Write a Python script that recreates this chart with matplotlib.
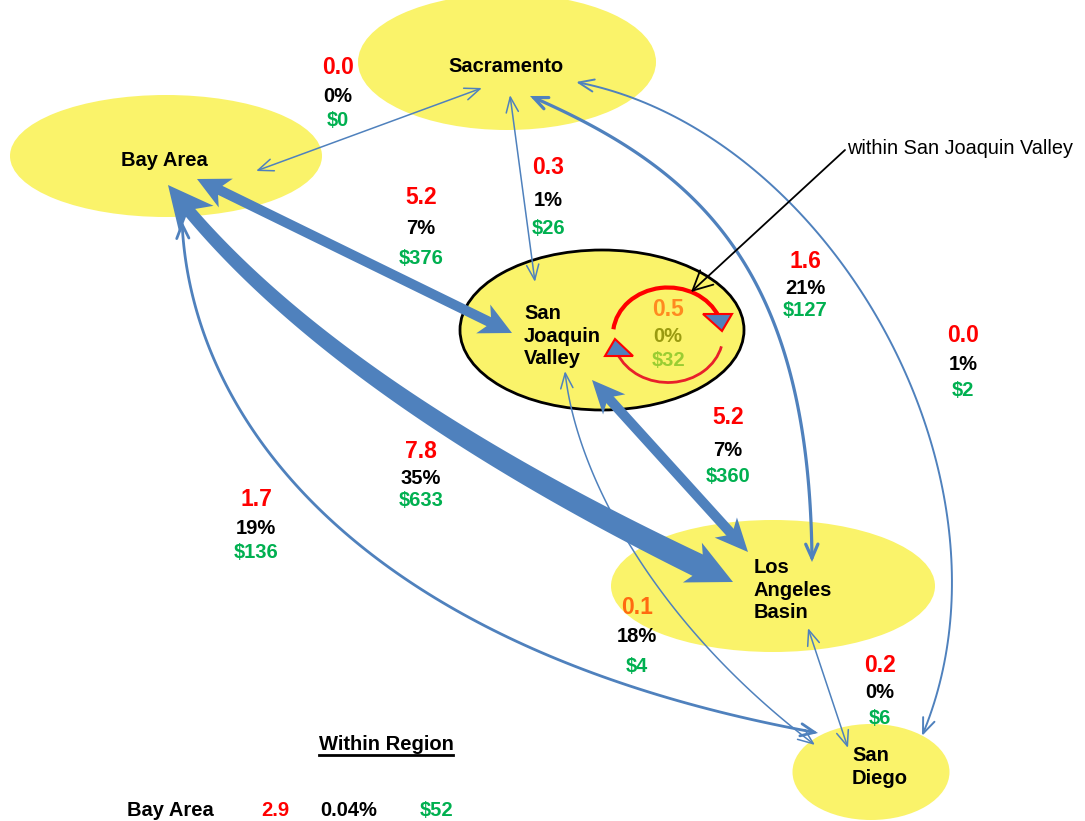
import numpy as np
import matplotlib
matplotlib.use("Agg")
import matplotlib.pyplot as plt
from matplotlib.patches import Ellipse, Polygon, FancyArrowPatch, Arc
from matplotlib.path import Path
from math import comb

plt.rcParams['font.family'] = ['Liberation Sans', 'DejaVu Sans']

# ---- data ----
regions = ["Bay Area", "Sacramento", "San Joaquin Valley", "Los Angeles Basin", "San Diego"]
region_labels = ["Bay Area", "Sacramento", "San\nJoaquin\nValley", "Los\nAngeles\nBasin", "San\nDiego"]

flow_from = ["Bay Area", "Sacramento", "Bay Area", "Sacramento", "Sacramento",
             "San Joaquin Valley", "Bay Area", "Bay Area", "San Joaquin Valley", "Los Angeles Basin"]
flow_to = ["Sacramento", "San Joaquin Valley", "San Joaquin Valley", "Los Angeles Basin", "San Diego",
           "Los Angeles Basin", "Los Angeles Basin", "San Diego", "San Diego", "San Diego"]
flow_val = [0.0, 0.3, 5.2, 1.6, 0.0, 5.2, 7.8, 1.7, 0.1, 0.2]
flow_pct = [0, 1, 7, 21, 1, 7, 35, 19, 18, 0]
flow_cost = [0, 26, 376, 127, 2, 360, 633, 136, 4, 6]

sjv_within_val = 0.5
sjv_within_pct = 0
sjv_within_cost = 32

within_region = ["Bay Area"]
within_val = [2.9]
within_pct = ["0.04%"]
within_cost = [52]

# ---- layout (pixel coordinates) ----
ell = {  # center x, center y, width, height, edge
    "Sacramento": (507, 62, 298, 136, None),
    "Bay Area": (166, 156, 312, 122, None),
    "San Joaquin Valley": (602, 330, 284, 160, 'k'),
    "Los Angeles Basin": (773, 586, 324, 132, None),
    "San Diego": (871, 772, 157, 96, None),
}
label_pos = {
    "Sacramento": (506, 66, 'center'),
    "Bay Area": (164, 160, 'center'),
    "San Joaquin Valley": (524, 336, 'left'),
    "Los Angeles Basin": (754, 590, 'left'),
    "San Diego": (852, 767, 'left'),
}
# arrow geometry: control points, style
arrow_ctrl = [
    [(256, 171), (482, 88)],
    [(510, 95), (535, 282)],
    [(197, 179), (512, 333)],
    [(530, 96), (700, 170), (810, 270), (812, 562)],
    [(576, 82), (830, 130), (1030, 480), (922, 736)],
    [(592, 380), (748, 552)],
    [(168, 185), (326, 391), (733, 582)],
    [(182, 221), (190, 420), (360, 650), (818, 733)],
    [(565, 371), (575, 470), (650, 620), (815, 745)],
    [(808, 628), (848, 748)],
]
# 'thin' arrows get a line width, 'fat' arrows get (w0, w1, hl, hw)
arrow_style = [
    ('thin', 1.1), ('thin', 1.1), ('fat', (10, 10, 32, 16)), ('thin', 2.3),
    ('thin', 1.4), ('fat', (10, 10, 33, 15)), ('fat', (12, 24, 45, 22)),
    ('thin', 2.0), ('thin', 1.1), ('thin', 1.1),
]
text_pos = [  # x, y of value, pct, cost
    (338, 68, 97, 121),
    (548, 168, 200, 229),
    (421, 198, 229, 258),
    (805, 262, 289, 311),
    (963, 335, 365, 390),
    (728, 417, 450, 477),
    (421, 451, 478, 500),
    (256, 499, 529, 553),
    (637, 608, 637, 667),
    (880, 665, 693, 718),
]

BLUE = '#4F81BD'
RED = '#FF0000'
GREEN = '#00B050'
YELLOW = '#FAF36A'


def bez(ctrl, n=200):
    ctrl = np.asarray(ctrl, float)
    k = len(ctrl) - 1
    t = np.linspace(0, 1, n)[:, None]
    return sum(comb(k, i) * t**i * (1 - t)**(k - i) * ctrl[i] for i in range(k + 1))


def head(tip, d, hl, hw):
    n = np.array([-d[1], d[0]])
    back = tip - hl * d
    return [tip, back + hw * n, tip - 0.72 * hl * d, back - hw * n]


def fat_arrow(ax, ctrl, w0, w1, hl, hw):
    pts = bez(ctrl)
    s = np.concatenate([[0], np.cumsum(np.hypot(*np.diff(pts, axis=0).T))])
    L = s[-1]
    px = lambda v: np.array([np.interp(v, s, pts[:, 0]), np.interp(v, s, pts[:, 1])])
    d0 = pts[0] - px(hl); d0 /= np.hypot(*d0)
    d1 = pts[-1] - px(L - hl); d1 /= np.hypot(*d1)
    ax.add_patch(Polygon(head(pts[0], d0, hl, hw), closed=True, fc=BLUE, ec='none', zorder=3))
    ax.add_patch(Polygon(head(pts[-1], d1, hl, hw), closed=True, fc=BLUE, ec='none', zorder=3))
    ss = np.linspace(0.6 * hl, L - 0.6 * hl, 150)
    c = np.array([px(v) for v in ss])
    tg = np.gradient(c, axis=0)
    tg /= np.hypot(tg[:, 0], tg[:, 1])[:, None]
    nrm = np.column_stack([-tg[:, 1], tg[:, 0]])
    w = np.linspace(w0, w1, len(ss))[:, None] / 2
    poly = np.vstack([c + w * nrm, (c - w * nrm)[::-1]])
    ax.add_patch(Polygon(poly, closed=True, fc=BLUE, ec='none', zorder=3))


fig = plt.figure(figsize=(10.85, 8.21), dpi=100)
ax = fig.add_axes([0, 0, 1, 1])
ax.set_xlim(0, 1085)
ax.set_ylim(821, 0)
ax.axis('off')

for r in regions:
    cx, cy, w, h, ec = ell[r]
    ax.add_patch(Ellipse((cx, cy), w, h, fc=YELLOW, ec=ec if ec else 'none', lw=2, zorder=1))

for ctrl, (kind, st) in zip(arrow_ctrl, arrow_style):
    if kind == 'fat':
        fat_arrow(ax, ctrl, *st)
    else:
        pts = bez(ctrl, 120) if len(ctrl) > 2 else np.asarray(ctrl, float)
        path = Path(pts)
        hs = 0.55 if st < 2 else 0.5
        ax.add_patch(FancyArrowPatch(path=path, arrowstyle=f"<->,head_length={hs},head_width=0.22",
                                     mutation_scale=20, color=BLUE, lw=st, zorder=3,
                                     capstyle='round', joinstyle='miter'))

# circular flow within San Joaquin Valley
ax.add_patch(Arc((668, 335), 110, 95, theta1=186, theta2=340, color=RED, lw=3, zorder=4))
ax.add_patch(Arc((668, 335), 110, 95, theta1=12, theta2=160, color='#E8202A', lw=2, zorder=4))
ax.add_patch(Polygon([(703, 314), (732, 314), (722, 331)], closed=True, fc=BLUE, ec=RED, lw=1.5, zorder=5))
ax.add_patch(Polygon([(605, 356), (633, 356), (615, 339)], closed=True, fc=BLUE, ec=RED, lw=1.5, zorder=5))

# pointer to within-valley flow
ax.add_patch(FancyArrowPatch((845, 150), (691, 292), arrowstyle="->,head_length=0.7,head_width=0.35",
                             mutation_scale=20, color='k', lw=1.3, zorder=6, shrinkA=0, shrinkB=0))
ax.text(847, 148, "within San Joaquin Valley", fontsize=14.3, ha='left', va='center', zorder=6)

for r, lab in zip(regions, region_labels):
    x, y, ha = label_pos[r]
    ax.text(x, y, lab, fontsize=14.5, fontweight='bold', ha=ha, va='center',
            multialignment='left', linespacing=1.25, zorder=7)

for i in range(len(flow_val)):
    x, y0, y1, y2 = text_pos[i]
    c0 = '#FF6A10' if i == 8 else RED
    ax.text(x, y0, f"{flow_val[i]:.1f}", color=c0, fontsize=16.5, fontweight='bold', ha='center', va='center', zorder=7)
    ax.text(x, y1, f"{flow_pct[i]}%", color='k', fontsize=14.5, fontweight='bold', ha='center', va='center', zorder=7)
    ax.text(x, y2, f"${flow_cost[i]}", color=GREEN, fontsize=14.5, fontweight='bold', ha='center', va='center', zorder=7)

ax.text(668, 310, f"{sjv_within_val:.1f}", color='#FF8A20', fontsize=16.5, fontweight='bold', ha='center', va='center', zorder=7)
ax.text(668, 336, f"{sjv_within_pct}%", color='#9A9A10', fontsize=14.5, fontweight='bold', ha='center', va='center', zorder=7)
ax.text(668, 361, f"${sjv_within_cost}", color='#9ACD32', fontsize=14.5, fontweight='bold', ha='center', va='center', zorder=7)

t = ax.text(386, 745, "Within Region", fontsize=14.5, fontweight='bold', ha='center', va='center')
fig.canvas.draw()
bb = t.get_window_extent(fig.canvas.get_renderer()).transformed(ax.transData.inverted())
ax.plot([bb.x0, bb.x1], [max(bb.y0, bb.y1) + 1, max(bb.y0, bb.y1) + 1], color='k', lw=2)

for r, v, p, c in zip(within_region, within_val, within_pct, within_cost):
    ax.text(170, 811, r, fontsize=14.5, fontweight='bold', ha='center', va='center')
    ax.text(275, 811, f"{v:.1f}", color=RED, fontsize=14.5, fontweight='bold', ha='center', va='center')
    ax.text(349, 811, p, fontsize=14.5, fontweight='bold', ha='center', va='center')
    ax.text(437, 811, f"${c}", color=GREEN, fontsize=14.5, fontweight='bold', ha='center', va='center')

fig.savefig("out.png", dpi=100)
